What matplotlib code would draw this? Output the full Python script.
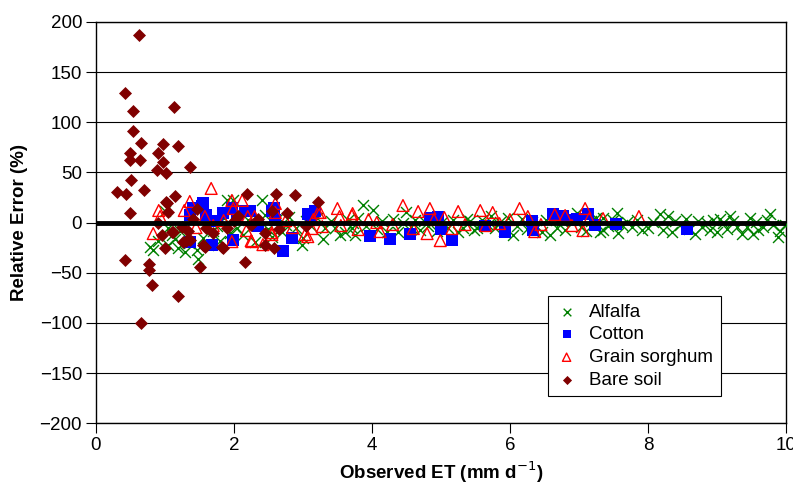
import matplotlib
matplotlib.use("Agg")
import matplotlib.pyplot as plt

plt.rcParams['font.family'] = ['Liberation Sans', 'DejaVu Sans']

# --- data: (observed ET, relative error %) ---
alfalfa_x = [0.78, 0.83, 0.9, 1.04, 1.14, 1.04, 1.0, 1.29, 1.48, 1.19, 1.46, 1.1, 1.22, 1.35, 1.55,
             1.62, 1.7, 1.75, 1.8, 1.9, 1.85, 1.95, 1.99, 2.05,
             2.13, 2.2, 2.28, 2.3, 2.4, 2.45, 2.5, 2.55, 2.62, 2.7, 2.75, 2.8, 2.9, 3.0, 2.98, 3.05,
             3.12, 3.2, 3.29, 3.32, 3.4, 3.46, 3.54, 3.61, 3.65, 3.71, 3.72, 3.75, 3.8, 3.87, 3.92, 4.01,
             4.08, 4.15, 4.22, 4.3, 4.38, 4.45, 4.5, 4.56, 4.62, 4.7, 4.75, 4.82, 4.9, 4.95, 5.02, 5.1,
             5.18, 5.25, 5.32, 5.38, 5.42, 5.48, 5.52, 5.6, 5.68, 5.73, 5.78, 5.85, 5.92, 5.97,
             6.04, 6.1, 6.18, 6.25, 6.32, 6.4, 6.46, 6.52, 6.58, 6.63, 6.68, 6.75, 6.8, 6.88, 6.97, 7.03,
             7.1, 7.18, 7.25, 7.3, 7.35, 7.35, 7.42, 7.5, 7.55, 7.57, 7.62, 7.7, 7.77, 7.84, 7.91, 8.0,
             8.08, 8.17, 8.22, 8.29, 8.35, 8.4, 8.46, 8.55, 8.6, 8.68, 8.72, 8.78, 8.85, 8.9, 8.95, 9.0,
             9.05, 9.09, 9.14, 9.19, 9.24, 9.29, 9.36, 9.43, 9.48, 9.52, 9.56, 9.6, 9.67, 9.72, 9.77,
             9.82, 9.88, 9.91, 9.99]
alfalfa_y = [-24, -27, -18, -22, -16, -5, 12, -29, -36, -25, -27, -12, -8, -20, -15,
             -22, -8, -3, -18, 22, 5, -10, 22, -5,
             -12, 3, -2, -19, 22, 8, -6, -14, 4, -9, -2, 6, -5, -15, -22, 2,
             -3, 5, -16, -5, 2, -5, -12, -9, 3, -5, 0, -12, 5, 18, -3, 13,
             -6, 2, -9, 4, -9, 0, 11, -4, 3, -7, 2, -3, 5, -8, 1, -5,
             3, -9, -5, 4, 2, -7, -5, 3, -2, 7, -5, 1, -8, 5,
             -12, -3, 4, -6, 1, -4, -9, 3, -12, 6, -5, 2, -7, 3, 10, -4,
             -8, 2, 5, -9, 5, -7, -3, 3, 10, -10, -2, 1, -4, 3, -7, -5,
             1, 9, -7, 7, -9, 2, -2, 4, -6, -11, 2, -4, 0, -7, 3, -9,
             4, 0, -6, 7, 2, -4, -11, -4, 5, -11, 1, -7, -4, 3, 9,
             -2, -14, -8, -2]

cotton_x = [1.36, 1.36, 1.41, 1.54, 1.55, 1.6, 1.68, 1.75, 1.84, 1.97, 1.99, 2.05, 2.16, 2.23,
            2.35, 2.55, 2.58, 2.6, 2.71, 2.84, 3.07, 3.17, 3.12, 3.97, 4.26, 4.55, 4.84, 4.96,
            5.0, 5.16, 5.64, 5.93, 6.32, 6.33, 6.63, 6.77, 6.9, 6.97, 7.13, 7.23, 7.54, 8.56]
cotton_y = [-19, 8, 15, 17, 19, 8, -22, 2, 10, 15, -17, 5, 12, 12,
            -3, 12, 15, 3, -28, -15, 9, 12, 5, -13, -16, -11, 5, 6,
            -6, -17, -3, -9, 2, -7, 9, 7, 3, 4, 9, -2, -1, -6]

sorghum_x = [0.83, 0.91, 0.93, 1.28, 1.36, 1.45, 1.58, 1.67, 1.7, 1.85, 1.99, 1.97, 1.97, 2.12,
             2.05, 2.18, 2.2, 2.25, 2.26, 2.3, 2.42, 2.55, 2.55, 2.6, 2.6, 2.75, 2.85, 3.03, 3.07,
             3.13, 3.15, 3.22, 3.25, 3.28, 3.5, 3.53, 3.55, 3.71, 3.72, 3.8, 3.95, 4.07, 4.12,
             4.3, 4.45, 4.6, 4.67, 4.8, 4.84, 4.9, 4.99, 5.05, 5.16, 5.25, 5.35, 5.57, 5.65,
             5.75, 5.85, 6.0, 6.14, 6.26, 6.36, 6.45, 6.65, 6.8, 6.9, 7.06, 7.09, 7.15, 7.35, 7.87]
sorghum_y = [-11, 12, 6, 12, 21, -5, 6, 34, -3, 2, 14, -19, 22, 22,
             5, -8, 6, -18, -19, 6, -22, -10, -12, 10, 19, 2, -5, -12, -14,
             -6, 3, 10, 10, -4, 14, 6, -3, 7, 9, -7, 3, 0, -9,
             -2, 17, -6, 11, -11, 14, 3, -18, 5, -6, 11, -2, 12, -3,
             10, -1, 3, 14, 6, -9, -2, 8, 7, -3, -8, 14, 4, 4, 6]

soil_x = [0.62, 0.42, 0.53, 1.13, 0.53, 0.66, 0.97, 1.19, 0.50, 0.90, 0.50, 0.64, 0.97, 0.88,
          1.01, 1.36, 0.51, 0.31, 0.43, 0.69, 1.14, 0.50, 1.01, 1.05, 0.42, 0.77, 0.77, 0.81,
          1.19, 0.66, 2.19, 2.61, 2.88, 3.22, 2.55, 2.77, 1.46, 1.03, 0.9, 0.96, 1.1, 1.25,
          1.33, 1.26, 1.36, 1.0, 1.55, 1.6, 1.83, 1.51, 2.06, 2.45, 2.45, 2.58, 2.16, 2.35,
          1.9, 1.4, 1.12, 1.3, 1.58, 1.84, 2.25, 2.65, 3.05, 2.0, 1.7]
soil_y = [187, 129, 111, 115, 91, 79, 78, 76, 69, 69, 62, 62, 60, 52,
          49, 55, 42, 30, 28, 32, 26, 10, 20, 11, -37, -41, -47, -62,
          -73, -100, 28, 28, 27, 20, 12, 10, 14, 19, 0, -12, -9, -4,
          -8, -19, -17, -25, -22, -5, -24, -44, 7, -10, -22, -25, -39, 4,
          -5, 4, -9, -18, -24, -25, -2, -6, -3, 2, -10]

yticks = [-200, -150, -100, -50, 0, 50, 100, 150, 200]
xticks = [0, 2, 4, 6, 8, 10]

fig = plt.figure(figsize=(7.93, 4.87), dpi=100)
ax = fig.add_axes([0.121, 0.131, 0.870, 0.824])

ax.scatter(alfalfa_x, alfalfa_y, marker='x', s=62, color='#008000', linewidths=1.0,
           label='Alfalfa', zorder=3)
ax.scatter(cotton_x, cotton_y, marker='s', s=64, color='#0000ff', linewidths=0,
           label='Cotton', zorder=4)
ax.scatter(sorghum_x, sorghum_y, marker='^', s=72, facecolors='none', edgecolors='#ff0000',
           linewidths=1.0, label='Grain sorghum', zorder=5)
ax.scatter(soil_x, soil_y, marker='D', s=44, color='#800000', linewidths=0,
           label='Bare soil', zorder=6)

ax.axhline(0, color='black', lw=3.5, zorder=7)

ax.set_xlim(0, 10)
ax.set_ylim(-200, 200)
ax.set_xticks(xticks)
ax.set_yticks(yticks)
ax.set_yticklabels([str(v).replace('-', '\u2212') for v in yticks])
ax.yaxis.grid(True, color='black', lw=0.8)
ax.set_axisbelow(True)
ax.tick_params(axis='both', direction='out', length=7, width=0.8, labelsize=13.5, pad=3)

for s in ax.spines.values():
    s.set_linewidth(1.0)
    s.set_color('black')

ax.set_xlabel('Observed ET (mm d$^{\u22121}$)', fontsize=13.5, fontweight='bold', labelpad=4)
ax.set_ylabel('Relative Error (%)', fontsize=13.5, fontweight='bold', labelpad=8)

leg = ax.legend(loc='upper left', bbox_to_anchor=(0.655, 0.317), borderaxespad=0,
                fontsize=13.5, frameon=True, fancybox=False, edgecolor='black',
                framealpha=1, markerscale=0.7, labelspacing=0.3, handletextpad=0.6,
                handlelength=1.2, borderpad=0.4)
leg.get_frame().set_linewidth(0.8)

fig.savefig('out.png', dpi=100)
